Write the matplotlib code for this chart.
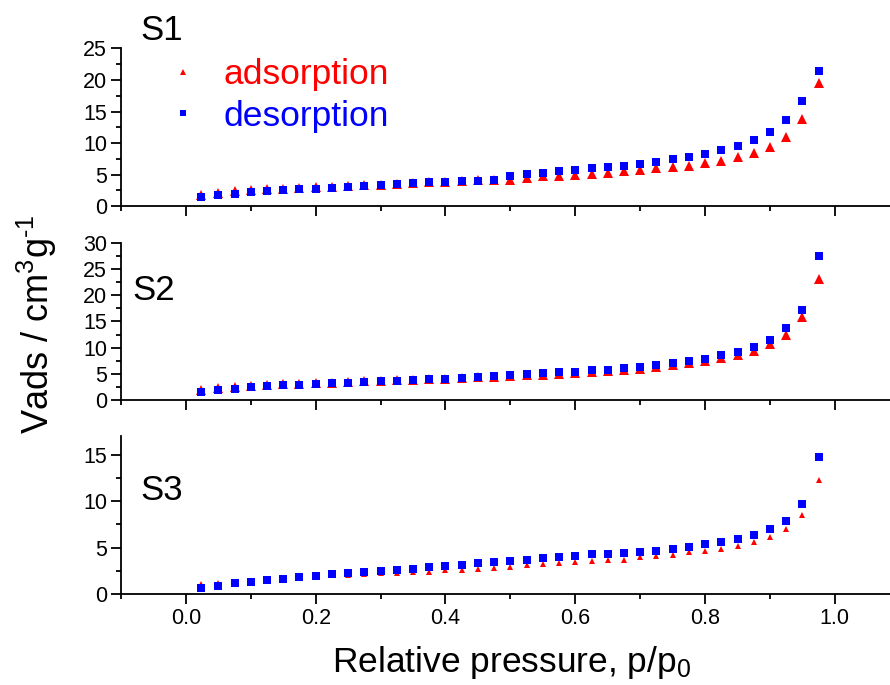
import matplotlib
matplotlib.use('Agg')
import matplotlib.pyplot as plt
from matplotlib.lines import Line2D
from matplotlib.ticker import MultipleLocator

plt.rcParams['font.family'] = ['Liberation Sans', 'DejaVu Sans']
plt.rcParams['mathtext.fontset'] = 'custom'
plt.rcParams['mathtext.rm'] = 'Liberation Sans'
plt.rcParams['mathtext.it'] = 'Liberation Sans:italic'
plt.rcParams['mathtext.default'] = 'regular'

# presion relativa p/p0
p = [0.023, 0.05, 0.075, 0.1, 0.125, 0.15, 0.175, 0.2, 0.225, 0.25,
     0.275, 0.3, 0.325, 0.35, 0.375, 0.4, 0.425, 0.45, 0.475, 0.5,
     0.525, 0.55, 0.575, 0.6, 0.625, 0.65, 0.675, 0.7, 0.725, 0.75,
     0.775, 0.8, 0.825, 0.85, 0.875, 0.9, 0.925, 0.95, 0.975]

# S1
s1_ads = [1.85, 2.12, 2.33, 2.49, 2.65, 2.75, 2.91, 3.01, 3.12, 3.22,
          3.28, 3.38, 3.54, 3.7, 3.8, 3.9, 4.0, 4.1, 4.15, 4.23,
          4.5, 4.76, 4.81, 4.97, 5.08, 5.29, 5.5, 5.66, 5.98, 6.14,
          6.4, 6.83, 7.2, 7.72, 8.36, 9.42, 11.01, 13.81, 19.58]
s1_des = [1.38, 1.75, 2.0, 2.17, 2.38, 2.49, 2.7, 2.8, 2.96, 3.12,
          3.22, 3.28, 3.54, 3.65, 3.8, 3.86, 3.97, 4.07, 4.23, 4.81,
          5.08, 5.29, 5.5, 5.71, 5.98, 6.19, 6.4, 6.72, 6.98, 7.41,
          7.78, 8.25, 8.84, 9.57, 10.48, 11.75, 13.6, 16.67, 21.4]

# S2
s2_ads = [2.0, 2.3, 2.5, 2.7, 2.85, 3.0, 3.1, 3.2, 3.3, 3.45,
          3.55, 3.65, 3.75, 3.85, 3.95, 4.05, 4.15, 4.3, 4.4, 4.58,
          4.77, 4.83, 5.03, 5.15, 5.34, 5.47, 5.66, 5.98, 6.23, 6.68,
          7.0, 7.44, 7.95, 8.65, 9.41, 10.69, 12.4, 15.77, 23.16]
s2_des = [1.59, 1.91, 2.16, 2.42, 2.61, 2.8, 2.93, 3.05, 3.18, 3.31,
          3.44, 3.56, 3.69, 3.82, 3.94, 4.07, 4.2, 4.39, 4.5, 4.77,
          4.96, 5.09, 5.28, 5.41, 5.66, 5.79, 6.05, 6.36, 6.68, 7.0,
          7.38, 7.89, 8.52, 9.1, 10.05, 11.39, 13.68, 17.18, 27.5]

# S3
s3_ads = [1.04, 1.15, 1.33, 1.4, 1.47, 1.58, 1.76, 1.94, 2.05, 2.05,
          2.16, 2.27, 2.3, 2.37, 2.4, 2.55, 2.59, 2.7, 2.77, 2.95,
          3.1, 3.2, 3.31, 3.42, 3.53, 3.64, 3.71, 3.93, 4.1, 4.25,
          4.54, 4.64, 4.89, 5.22, 5.62, 6.16, 6.98, 8.5, 12.24]
s3_des = [0.61, 0.9, 1.15, 1.33, 1.51, 1.66, 1.84, 1.98, 2.12, 2.23,
          2.38, 2.48, 2.62, 2.73, 2.92, 3.06, 3.17, 3.31, 3.42, 3.56,
          3.71, 3.85, 4.03, 4.14, 4.28, 4.35, 4.39, 4.54, 4.68, 4.86,
          5.08, 5.33, 5.62, 5.97, 6.34, 6.98, 7.85, 9.65, 14.72]

muestras = ['S1', 'S2', 'S3']
ads = [s1_ads, s2_ads, s3_ads]
des = [s1_des, s2_des, s3_des]
ymax = [25, 30, 17]
yticks = [[0, 5, 10, 15, 20, 25], [0, 5, 10, 15, 20, 25, 30], [0, 5, 10, 15]]
tri_size = [6.5, 6.5, 4.2]
etiqueta_pos = [(0.025, 1.056), (0.015, 0.636), (0.025, 0.595)]

fig = plt.figure(figsize=(8.9, 6.85), dpi=100)
# [left, bottom, width, height]
cajas = [[0.136, 0.699, 0.864, 0.2302],
         [0.136, 0.416, 0.864, 0.2296],
         [0.136, 0.1328, 0.864, 0.2307]]

for i in range(3):
    ax = fig.add_axes(cajas[i])
    ax.plot(p, ads[i], ls='none', marker='^', ms=tri_size[i], color='#ff0000', mew=0)
    ax.plot(p, des[i], ls='none', marker='s', ms=5.6, color='#0000ff', mew=0)
    ax.set_xlim(-0.1, 1.085)
    ax.set_ylim(0, ymax[i])
    ax.set_yticks(yticks[i])
    ax.yaxis.set_minor_locator(MultipleLocator(2.5))
    ax.xaxis.set_major_locator(MultipleLocator(0.2))
    ax.xaxis.set_minor_locator(MultipleLocator(0.1))
    ax.spines['top'].set_visible(False)
    ax.spines['right'].set_visible(False)
    for s in ['left', 'bottom']:
        ax.spines[s].set_linewidth(1.3)
    ax.tick_params(which='major', direction='out', length=7, width=1.3, labelsize=15.5, pad=3)
    ax.tick_params(which='minor', direction='out', length=3.5, width=1.3)
    if i < 2:
        ax.tick_params(axis='x', which='both', labelbottom=False)
    else:
        ax.set_xticklabels(['%.1f' % v for v in ax.get_xticks()])
    ax.text(etiqueta_pos[i][0], etiqueta_pos[i][1], muestras[i], transform=ax.transAxes,
            fontsize=25, ha='left', va='baseline')
    if i == 0:
        handles = [Line2D([], [], ls='none', marker='^', ms=4.5, color='#ff0000', mew=0),
                   Line2D([], [], ls='none', marker='s', ms=4.2, color='#0000ff', mew=0)]
        ax.legend(handles, ['adsorption', 'desorption'], loc='upper left',
                  bbox_to_anchor=(0.057, 0.94), frameon=False, fontsize=25.5,
                  handlelength=1.0, handletextpad=0.65, borderpad=0, borderaxespad=0,
                  labelspacing=0.25, labelcolor=['#ff0000', '#0000ff'])

fig.text(0.042, 0.527, 'Vads / cm$^3$g$^{\\text{-}1}$', rotation=90, fontsize=26,
         ha='center', va='center')
fig.text(0.575, 0.019, 'Relative pressure, p/p$_0$', fontsize=25.5,
         ha='center', va='baseline')

plt.savefig('out.png', dpi=100)
